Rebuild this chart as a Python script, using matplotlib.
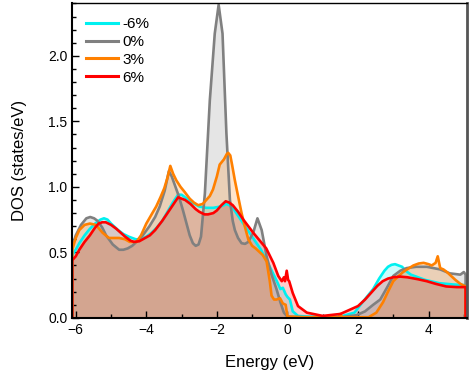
import numpy as np
import matplotlib.pyplot as plt
from matplotlib.ticker import MultipleLocator

plt.rcParams['font.family'] = ['Liberation Sans', 'DejaVu Sans']

# -6% strain
e_m6 = [-6.1, -6.0, -5.9, -5.75, -5.6, -5.45, -5.3, -5.2, -5.1, -5.0, -4.8, -4.65, -4.5, -4.3,
        -4.15, -4.0, -3.85, -3.7, -3.55, -3.4, -3.25, -3.1, -3.0, -2.9, -2.7, -2.5, -2.3, -2.1,
        -1.9, -1.8, -1.73, -1.65, -1.55, -1.45, -1.3, -1.15, -1.0, -0.75, -0.5, -0.3, -0.2,
        -0.13, -0.05, 0.0, 0.07, 0.15, 0.3, 0.6, 1.0, 1.5, 1.9, 2.1, 2.25, 2.43, 2.6, 2.75,
        2.85, 2.95, 3.05, 3.15, 3.25, 3.35, 3.5, 3.7, 3.9, 4.3, 4.7, 5.05]
dos_m6 = [0.48, 0.52, 0.57, 0.63, 0.68, 0.72, 0.75, 0.76, 0.75, 0.72, 0.67, 0.64, 0.62, 0.60,
          0.60, 0.62, 0.65, 0.69, 0.74, 0.81, 0.88, 0.94, 0.94, 0.92, 0.88, 0.85, 0.84, 0.84,
          0.85, 0.86, 0.87, 0.86, 0.84, 0.80, 0.74, 0.68, 0.62, 0.52, 0.39, 0.28, 0.22,
          0.23, 0.18, 0.16, 0.14, 0.05, 0.015, 0.01, 0.01, 0.01, 0.04, 0.11, 0.16, 0.22, 0.30, 0.36,
          0.39, 0.405, 0.41, 0.40, 0.39, 0.36, 0.33, 0.31, 0.29, 0.265, 0.255, 0.25]

# 0% strain
e_0 = [-6.1, -6.0, -5.85, -5.7, -5.59, -5.48, -5.38, -5.25, -5.14, -4.95, -4.77, -4.65, -4.53,
       -4.4, -4.28, -4.1, -3.91, -3.75, -3.62, -3.48, -3.36, -3.28, -3.2, -3.08, -2.96, -2.85,
       -2.77, -2.68, -2.6, -2.52, -2.45, -2.34, -2.2, -2.06, -1.95, -1.84, -1.73, -1.63, -1.55,
       -1.49, -1.4, -1.3, -1.2, -1.11, -0.97, -0.85, -0.73, -0.59, -0.45, -0.31, -0.2, -0.1, 0.0,
       0.5, 1.0, 1.5, 1.95, 2.2, 2.43, 2.63, 2.82, 3.0, 3.2, 3.38, 3.65, 3.95, 4.33, 4.6, 4.9,
       5.0, 5.05]
dos_0 = [0.54, 0.63, 0.71, 0.76, 0.77, 0.76, 0.74, 0.69, 0.63, 0.56, 0.52, 0.52, 0.53,
         0.55, 0.58, 0.63, 0.70, 0.77, 0.85, 0.97, 1.12, 1.08, 1.02, 0.93, 0.82, 0.71,
         0.63, 0.57, 0.55, 0.56, 0.62, 0.95, 1.66, 2.17, 2.39, 2.17, 1.41, 0.90, 0.74,
         0.67, 0.61, 0.57, 0.565, 0.58, 0.65, 0.76, 0.67, 0.47, 0.33, 0.22, 0.12, 0.04, 0.01,
         0.005, 0.005, 0.005, 0.02, 0.05, 0.10, 0.14, 0.23, 0.32, 0.36, 0.38, 0.39, 0.39, 0.37,
         0.34, 0.33, 0.35, 0.33]

# 3% strain
e_3 = [-6.1, -6.0, -5.9, -5.75, -5.6, -5.43, -5.24, -5.06, -4.9, -4.77, -4.6, -4.47, -4.28,
       -4.15, -4.0, -3.85, -3.72, -3.6, -3.49, -3.4, -3.32, -3.24, -3.15, -3.03, -2.91, -2.77,
       -2.65, -2.53, -2.4, -2.3, -2.2, -2.11, -2.0, -1.92, -1.8, -1.72, -1.68, -1.62, -1.57,
       -1.49, -1.4, -1.3, -1.2, -1.11, -1.0, -0.9, -0.7, -0.59, -0.5, -0.45, -0.38, -0.31,
       -0.21, -0.13, -0.05, 0.0, 0.5, 1.0, 1.45, 1.5, 1.55, 2.0, 2.3, 2.52, 2.71, 2.85, 3.0,
       3.15, 3.28, 3.45, 3.57, 3.72, 3.86, 4.0, 4.09, 4.2, 4.26, 4.33, 4.42, 4.52, 4.64, 4.76,
       4.9, 5.05]
dos_3 = [0.52, 0.61, 0.67, 0.71, 0.72, 0.71, 0.65, 0.61, 0.61, 0.61, 0.60, 0.58, 0.58,
         0.63, 0.72, 0.79, 0.85, 0.92, 0.99, 1.07, 1.16, 1.10, 1.05, 1.00, 0.96, 0.91,
         0.88, 0.86, 0.87, 0.90, 0.93, 0.98, 1.08, 1.17, 1.21, 1.25, 1.26, 1.24, 1.17,
         1.05, 0.93, 0.80, 0.69, 0.60, 0.55, 0.53, 0.48, 0.43, 0.28, 0.17, 0.14, 0.14,
         0.15, 0.11, 0.10, 0.01, 0.005, 0.005, 0.005, 0.03, 0.005, 0.005, 0.005, 0.04, 0.12, 0.20, 0.28,
         0.32, 0.35, 0.38, 0.40, 0.415, 0.42, 0.41, 0.40, 0.42, 0.47, 0.38, 0.37, 0.35, 0.32, 0.29,
         0.26, 0.24]

# 6% strain
e_6 = [-6.1, -6.0, -5.9, -5.75, -5.6, -5.45, -5.35, -5.25, -5.15, -5.0, -4.85, -4.6, -4.45,
       -4.35, -4.2, -4.1, -3.9, -3.75, -3.55, -3.35, -3.2, -3.1, -3.0, -2.9, -2.75, -2.6, -2.5,
       -2.35, -2.25, -2.1, -2.0, -1.87, -1.75, -1.65, -1.55, -1.4, -1.25, -0.97, -0.6, -0.4,
       -0.26, -0.16, -0.1, -0.07, -0.02, 0.02, 0.05, 0.15, 0.3, 0.55, 1.0, 1.5, 2.0, 2.2, 2.4,
       2.55, 2.7, 2.85, 3.0, 3.2, 3.4, 3.7, 3.95, 4.2, 4.5, 4.8, 5.05]
dos_6 = [0.44, 0.47, 0.52, 0.58, 0.63, 0.69, 0.72, 0.73, 0.73, 0.71, 0.68, 0.62, 0.59,
         0.58, 0.585, 0.60, 0.63, 0.67, 0.74, 0.82, 0.88, 0.92, 0.91, 0.90, 0.87, 0.83, 0.81,
         0.79, 0.79, 0.80, 0.82, 0.86, 0.89, 0.88, 0.86, 0.81, 0.75, 0.65, 0.53, 0.42,
         0.32, 0.28, 0.31, 0.28, 0.36, 0.29, 0.28, 0.19, 0.09, 0.04, 0.015, 0.03, 0.09, 0.14, 0.20,
         0.245, 0.28, 0.30, 0.31, 0.315, 0.31, 0.295, 0.28, 0.26, 0.24, 0.235, 0.235]

labels = ['-6%', '0%', '3%', '6%']
colors = ['#00f0f0', '#808080', '#ff8000', '#ff0000']

fig = plt.figure(figsize=(4.69, 3.83), dpi=100)
ax = fig.add_axes([0.154, 0.170, 0.841, 0.821])

series = [(e_m6, dos_m6), (e_0, dos_0), (e_3, dos_3), (e_6, dos_6)]
for (e, d), lab, c in zip(series, labels, colors):
    e = np.asarray(e)
    d = np.asarray(d)
    ax.fill_between(e, d, 0, color=c, alpha=0.2, linewidth=0)
    # outline drops to zero at both ends like a closed polygon
    ax.plot(np.r_[e[0], e, e[-1]], np.r_[0, d, 0], color=c, lw=1.9, label=lab)

ax.set_xlim(-6.1, 5.08)
ax.set_ylim(0, 2.4)
ax.xaxis.set_major_locator(MultipleLocator(2))
ax.xaxis.set_minor_locator(MultipleLocator(1))
ax.yaxis.set_major_locator(MultipleLocator(0.5))
ax.yaxis.set_minor_locator(MultipleLocator(0.1))
ax.tick_params(which='both', direction='in', top=False, right=False, labelsize=10)
ax.tick_params(which='major', length=5, width=1)
ax.tick_params(which='minor', length=3, width=1)
ax.set_yticks([0.0, 0.5, 1.0, 1.5, 2.0])
ax.set_yticklabels(['0.0', '0.5', '1.0', '1.5', '2.0'])

ax.spines['bottom'].set_linewidth(1.5)
ax.spines['left'].set_linewidth(1.5)
ax.spines['top'].set_linewidth(1.0)
ax.spines['right'].set_color('#555555')
ax.spines['right'].set_linewidth(2)

ax.set_xlabel('Energy (eV)', fontsize=12, labelpad=13)
ax.set_ylabel('DOS (states/eV)', fontsize=12, labelpad=15)

leg = ax.legend(loc='upper left', frameon=False, fontsize=11, handlelength=2.1,
                handletextpad=0.3, labelspacing=0.25, borderaxespad=0.5)
for line in leg.get_lines():
    line.set_linewidth(2.2)

fig.savefig('out.png', dpi=100)
